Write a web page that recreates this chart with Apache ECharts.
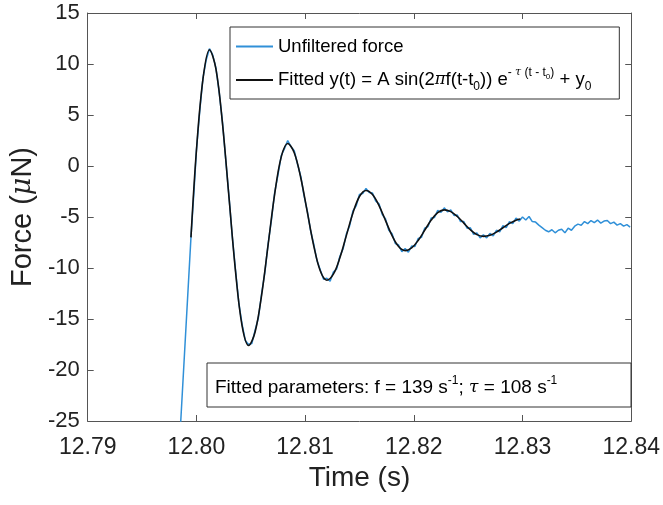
<!DOCTYPE html>
<html><head><meta charset="utf-8">
<script src="https://cdn.jsdelivr.net/npm/echarts@6/dist/echarts.min.js"></script>
<style>html,body{margin:0;padding:0;background:#fff}#c{width:663px;height:505px}</style>
</head><body><div id="c"></div>
<script>
const xTickLabels = ['12.79','12.80','12.81','12.82','12.83','12.84'];
const yTickLabels = ['-25','-20','-15','-10','-5','0','5','10','15'];

const blueTime = [12.7983,12.7995,12.7998,
12.8000,12.8003,12.8006,12.8009,12.8012,12.8015,12.8018,12.8021,12.8024,12.8027,
12.8030,12.8033,12.8036,12.8039,12.8042,12.8045,12.8048,12.8051,12.8054,12.8057,
12.8060,12.8063,12.8066,12.8069,12.8072,12.8075,12.8078,12.8081,12.8084,12.8087,
12.8090,12.8093,12.8096,12.8099,12.8102,12.8105,12.8108,12.8111,12.8114,12.8117,
12.8120,12.8123,12.8126,12.8129,12.8132,12.8135,12.8138,12.8141,12.8144,12.8147,
12.8150,12.8153,12.8156,12.8159,12.8162,12.8165,12.8168,12.8171,12.8174,12.8177,
12.8180,12.8183,12.8186,12.8189,12.8192,12.8195,12.8198,12.8201,12.8204,12.8207,
12.8210,12.8213,12.8216,12.8219,12.8222,12.8225,12.8228,12.8231,12.8234,12.8237,
12.8240,12.8243,12.8246,12.8249,12.8252,12.8255,12.8258,12.8261,12.8264,12.8267,
12.8270,12.8273,12.8276,12.8279,12.8282,12.8285,12.8288,12.8291,12.8294,12.8297,
12.8300,12.8303,12.8306,12.8309,12.8312,12.8315,12.8318,12.8321,12.8324,12.8327,
12.8330,12.8333,12.8336,12.8339,12.8342,12.8345,12.8348,12.8351,12.8354,12.8357,
12.8360,12.8363,12.8366,12.8369,12.8372,12.8375,12.8378,12.8381,12.8384,12.8387,
12.8390,12.8393,12.8396,12.8399];
const blueForce = [-30,-7.0,-2.1,
1.5,5.3,8.6,10.4,11.5,10.9,9.6,7.2,4.3,0.6,
-3.0,-6.9,-10.2,-13.4,-15.5,-17.1,-17.5,-17.4,-16.1,-14.9,
-12.5,-10.4,-7.6,-5.3,-2.6,-0.9,1.0,1.7,2.5,1.9,
1.5,0.2,-1.0,-2.9,-4.4,-6.3,-7.7,-9.3,-10.2,-11.1,
-11.0,-11.3,-10.4,-10.1,-8.85,-8.1,-6.65,-5.85,-4.4,-3.9,
-2.8,-2.7,-2.2,-2.6,-2.65,-3.45,-3.7,-4.75,-5.2,-6.3,
-6.65,-7.6,-7.75,-8.4,-8.1,-8.45,-7.85,-7.9,-7.1,-7.0,
-6.1,-5.95,-5.1,-5.05,-4.35,-4.55,-4.1,-4.5,-4.3,-4.85,
-4.8,-5.45,-5.45,-6.1,-6.05,-6.7,-6.55,-7.05,-6.75,-7.05,
-6.6,-6.85,-6.3,-6.45,-5.85,-6.05,-5.45,-5.65,-5.1,-5.4,
-5.0,-5.3,-4.95,-5.45,-5.5,-5.8,-6.05,-6.3,-6.45,-6.25,
-6.55,-6.3,-6.2,-6.55,-6.1,-6.3,-5.9,-5.7,-5.8,-5.45,
-5.65,-5.35,-5.55,-5.3,-5.6,-5.4,-5.35,-5.65,-5.5,-5.8,
-5.65,-5.9,-5.75,-6.0];

const fitTime = [12.7995,12.8000,12.8006,12.8012,12.8018,12.8024,12.8030,12.8036,12.8042,12.8048,
12.8054,12.8060,12.8066,12.8072,12.8078,12.8084,12.8090,12.8096,12.8102,12.8108,
12.8114,12.8120,12.8126,12.8132,12.8138,12.8144,12.8150,12.8156,12.8162,12.8168,
12.8174,12.8180,12.8186,12.8192,12.8198,12.8204,12.8210,12.8216,12.8222,12.8228,
12.8234,12.8240,12.8246,12.8252,12.8258,12.8264,12.8270,12.8276,12.8282,12.8288,
12.8294,12.8298];
const fitForce = [-7.0,1.5,8.5,11.4,9.5,4.15,-3.1,-10.35,-15.66,-17.6,
-16.27,-12.65,-7.7,-2.75,0.87,2.2,1.3,-1.15,-4.5,-7.85,
-10.3,-11.2,-10.61,-9.0,-6.8,-4.6,-2.99,-2.4,-2.8,-3.88,
-5.35,-6.83,-7.9,-8.3,-8.03,-7.3,-6.3,-5.3,-4.57,-4.3,
-4.47,-4.95,-5.6,-6.25,-6.73,-6.9,-6.79,-6.48,-6.05,-5.63,
-5.31,-5.2];

const seriesNames = ['Unfiltered force', 'Fitted'];
const FONT = 'Liberation Sans, Arial, Helvetica, sans-serif';
const GREEK = 'DejaVu Serif, Liberation Serif, serif';

const xMin = +xTickLabels[0], xMax = +xTickLabels[xTickLabels.length-1];
const xStep = +(xTickLabels[1]) - xMin;
const yMin = +yTickLabels[0], yMax = +yTickLabels[yTickLabels.length-1];
const yStep = +(yTickLabels[1]) - yMin;

const chart = echarts.init(document.getElementById('c'), null, {renderer:'canvas'});

const axisCol = '#555';
const N = 'normal';
function makeRich(fs) {
  return {
    a: {fontFamily: FONT, fontSize: fs, fontWeight: N, color: '#000', lineHeight: 26},
    g: {fontFamily: GREEK, fontStyle: 'italic', fontWeight: N, fontSize: fs - 2, color: '#000', lineHeight: 26},
    sub: {fontFamily: FONT, fontSize: 12, fontWeight: N, color: '#000', lineHeight: 11, verticalAlign: 'bottom'},
    sup: {fontFamily: FONT, fontSize: 12, fontWeight: N, color: '#000', lineHeight: 11, verticalAlign: 'top'},
    supg: {fontFamily: GREEK, fontStyle: 'italic', fontWeight: N, fontSize: 11, color: '#000', lineHeight: 11, verticalAlign: 'top'},
    supsub: {fontFamily: FONT, fontSize: 8, fontWeight: N, color: '#000', lineHeight: 11, height: 20, verticalAlign: 'top'}
  };
}

function baseX(pos, show) {
  return {
    type: 'value', position: pos, min: xMin, max: xMax, interval: xStep,
    axisLine: {show: true, onZero: false, lineStyle: {color: axisCol, width: 1}},
    axisTick: {show: true, inside: true, length: 6, lineStyle: {color: axisCol}},
    axisLabel: {show: show, margin: 15, fontSize: 23, color: '#222', fontFamily: FONT,
      formatter: v => xTickLabels[Math.round((v - xMin) / xStep)]},
    splitLine: {show: false}
  };
}
function baseY(pos, show) {
  return {
    type: 'value', position: pos, min: yMin, max: yMax, interval: yStep,
    axisLine: {show: true, onZero: false, lineStyle: {color: axisCol, width: 1}},
    axisTick: {show: true, inside: true, length: 6, lineStyle: {color: axisCol}},
    axisLabel: {show: show, margin: 8, fontSize: 22, color: '#222', fontFamily: FONT,
      formatter: v => yTickLabels[Math.round((v - yMin) / yStep)]},
    splitLine: {show: false}
  };
}

const xAxisBottom = baseX('bottom', true);
xAxisBottom.name = 'Time (s)';
xAxisBottom.nameLocation = 'middle';
xAxisBottom.nameGap = 41;
xAxisBottom.nameTextStyle = {fontSize: 28, color: '#222', fontFamily: FONT};
const yAxisLeft = baseY('left', true);
yAxisLeft.name = '{a|Force (}{g|\u03BC}{a|N)}';
yAxisLeft.nameLocation = 'middle';
yAxisLeft.nameGap = 46;
yAxisLeft.nameTextStyle = {rich: {
  a: {fontSize: 29, color: '#222', fontFamily: FONT},
  g: {fontSize: 27, color: '#222', fontFamily: GREEK, fontStyle: 'italic'}
}};

const option = {
  animation: false,
  backgroundColor: '#fff',
  grid: {left: 86, right: 28, top: 13, bottom: 84, containLabel: false},
  xAxis: [xAxisBottom, baseX('top', false)],
  yAxis: [yAxisLeft, baseY('right', false)],
  legend: {
    show: true, orient: 'vertical', left: 230, top: 27,
    backgroundColor: '#fff', borderColor: '#333', borderWidth: 1,
    padding: [10, 28, 6, 5], itemGap: 11, itemWidth: 37, itemHeight: 14,
    itemStyle: {opacity: 0, borderWidth: 0},
    data: seriesNames,
    textStyle: {fontFamily: FONT, fontSize: 18.5, color: '#000', rich: makeRich(18.5)},
    formatter: function (name) {
      if (name === 'Fitted') {
        return '{a|Fitted y(t) = A sin(2}{g|\u03C0}{a|f(t-t}{sub|0}{a|)) e}{sup|- }{supg|\u03C4}{sup| (t - t}{supsub|0}{sup|)}{a| + y}{sub|0}';
      }
      return '{a|' + name + '}';
    }
  },
  title: {
    text: '{a|Fitted parameters: f = 139 s}{sup|-1}{a|; }{g|\u03C4}{a| = 108 s}{sup|-1}',
    left: 215, top: 375,
    padding: 0,
    textStyle: {fontWeight: 'normal', rich: makeRich(19)}
  },
  graphic: [{
    type: 'rect', z: 1,
    shape: {x: 207, y: 363, width: 424, height: 44},
    style: {fill: '#fff', stroke: '#333', lineWidth: 1}
  }],
  series: [
    {
      name: seriesNames[0], type: 'line', xAxisIndex: 0, yAxisIndex: 0,
      data: blueTime.map((t, i) => [t, blueForce[i]]),
      showSymbol: false, symbol: 'none', clip: true, z: 2,
      lineStyle: {color: '#3090d8', width: 1.5}, itemStyle: {color: '#3090d8'}
    },
    {
      name: seriesNames[1], type: 'line', xAxisIndex: 0, yAxisIndex: 0,
      data: fitTime.map((t, i) => [t, fitForce[i]]),
      showSymbol: false, symbol: 'none', smooth: 0.35, clip: true, z: 3,
      lineStyle: {color: '#111', width: 1.6}, itemStyle: {color: '#111'}
    }
  ]
};
chart.setOption(option);
</script>
</body></html>
